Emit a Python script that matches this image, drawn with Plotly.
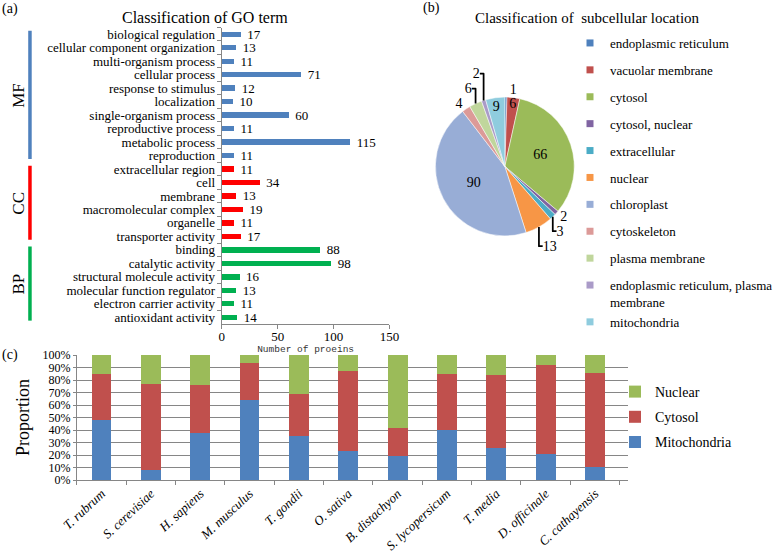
import plotly.graph_objects as go

W, H = 778, 557

# (a) GO classification
go_terms = [
    "biological regulation", "cellular component organization", "multi-organism process",
    "cellular process", "response to stimulus", "localization", "single-organism process",
    "reproductive process", "metabolic process", "reproduction",
    "extracellular region", "cell", "membrane", "macromolecular complex", "organelle",
    "transporter activity",
    "binding", "catalytic activity", "structural molecule activity",
    "molecular function regulator", "electron carrier activity", "antioxidant activity",
]
go_counts = [17, 13, 11, 71, 12, 10, 60, 11, 115, 11,
             11, 34, 13, 19, 11, 17,
             88, 98, 16, 13, 11, 14]
go_groups = ["MF", "CC", "BP"]
go_group_sizes = [10, 6, 6]
go_group_colors = ["#4F81BD", "#FF0000", "#00B050"]

# (b) subcellular location
loc_labels = [
    "endoplasmic reticulum", "vacuolar membrane", "cytosol", "cytosol, nuclear",
    "extracellular", "nuclear", "chloroplast", "cytoskeleton", "plasma membrane",
    "endoplasmic reticulum, plasma<br>membrane", "mitochondria",
]
loc_counts = [1, 6, 66, 2, 3, 13, 90, 4, 6, 2, 9]
loc_colors = ["#4F81BD", "#C0504D", "#9BBB59", "#8064A2", "#4BACC6", "#F79646",
              "#98ADD6", "#DC9A98", "#C0D69C", "#AA9BC8", "#8FCCDE"]

# (c) proportion per species
species = ["T. rubrum", "S. cerevisiae", "H. sapiens", "M. musculus", "T. gondii",
           "O. sativa", "B. distachyon", "S. lycopersicum", "T. media",
           "D. officinale", "C. cathayensis"]
mito = [48, 8, 38, 64, 35.5, 23.5, 19.5, 40, 26, 21, 10.5]
cytosol = [37, 69, 38, 30, 33, 64, 22, 45, 58, 71, 75]
nuclear = [15, 23, 24, 6, 31.5, 12.5, 58.5, 15, 16, 8, 14.5]
highlight = "C. cathayensis"

serif = "Liberation Serif"
axis_col = "#868686"


def px_x(p):
    return p / W


def px_y(p):
    return 1 - p / H


fig = go.Figure()

# bars of panel (a), coloured per group
bar_colors = []
for g, n in enumerate(go_group_sizes):
    bar_colors += [go_group_colors[g]] * n

fig.add_trace(go.Bar(
    x=go_counts, y=go_terms, orientation="h",
    marker=dict(color=bar_colors, line=dict(width=0)),
    texttemplate="\u00a0\u00a0%{x}", textposition="outside", constraintext="none",
    textfont=dict(size=13, color="black", family=serif),
    cliponaxis=False, showlegend=False,
    xaxis="x", yaxis="y",
))

# pie of panel (b)
fig.add_trace(go.Pie(
    labels=loc_labels, values=loc_counts, sort=False, direction="clockwise",
    rotation=0, marker=dict(colors=loc_colors, line=dict(color="white", width=0.5)),
    textinfo="value",
    textposition=["outside", "inside", "inside", "outside", "outside", "outside",
                  "inside", "outside", "outside", "outside", "inside"],
    insidetextorientation="horizontal",
    textfont=dict(size=14, color="black", family=serif),
    domain=dict(x=[px_x(436), px_x(575)], y=[px_y(236), px_y(97)]),
    showlegend=False, hoverinfo="label+value",
))

# legend entries for the pie (last two share a group so the wrapped label adds no gap)
for i, (lab, col) in enumerate(zip(loc_labels, loc_colors)):
    grp = "er_pm" if i >= len(loc_labels) - 2 else lab
    fig.add_trace(go.Scatter(
        x=[None], y=[None], mode="markers", name=lab, legend="legend2",
        legendgroup=grp, marker=dict(symbol="square", size=7, color=col),
        xaxis="x2", yaxis="y2",
    ))

# stacked bars of panel (c)
for rank, (name, vals, col) in enumerate([("Mitochondria", mito, "#4F81BD"),
                                          ("Cytosol", cytosol, "#C0504D"),
                                          ("Nuclear", nuclear, "#9BBB59")]):
    fig.add_trace(go.Bar(
        x=species, y=vals, name=name, marker=dict(color=col, line=dict(width=0)),
        legendgroup=name, legendrank=1000 - rank, xaxis="x2", yaxis="y2",
    ))

fig.add_trace(go.Scatter(
    x=[highlight], y=[-4], mode="markers", marker=dict(color="#FF0000", size=9),
    cliponaxis=False, showlegend=False, xaxis="x2", yaxis="y2", hoverinfo="skip",
))

# group bars and labels next to panel (a)
shapes = []
annotations = []
start = 0
for g, n in enumerate(go_group_sizes):
    shapes.append(dict(type="line", xref="paper", yref="y",
                       x0=px_x(30), x1=px_x(30), y0=start - 0.25, y1=start + n - 0.75,
                       line=dict(color=go_group_colors[g], width=3.5)))
    annotations.append(dict(text=go_groups[g], xref="paper", yref="y",
                            x=px_x(19), y=start + (n - 1) / 2, textangle=-90,
                            xanchor="center", yanchor="middle",
                            showarrow=False, font=dict(size=17, family=serif, color="black")))
    start += n

for txt, x, y, size in [("(a)", 10, 9, 14), ("(b)", 432, 8, 14), ("(c)", 10, 355, 14),
                        ("Classification of GO term", 205, 18, 16),
                        ("Classification of&nbsp; subcellular location", 588, 18, 15)]:
    annotations.append(dict(text=txt, xref="paper", yref="paper", x=px_x(x), y=px_y(y),
                            xanchor="center", yanchor="middle",
                            showarrow=False, font=dict(size=size, family=serif, color="black")))

fig.update_layout(
    width=W, height=H, template="none",
    margin=dict(l=0, r=0, t=0, b=0),
    paper_bgcolor="white", plot_bgcolor="white",
    font=dict(family=serif, color="black", size=13),
    barmode="stack", bargap=0.6,
    uniformtext=dict(minsize=13, mode="show"),
    xaxis=dict(domain=[px_x(222), px_x(390)], range=[0, 150], tickvals=[0, 50, 100, 150],
               showgrid=False, zeroline=False, showline=True, linecolor=axis_col,
               ticks="outside", ticklen=4, tickcolor=axis_col, automargin=False,
               tickfont=dict(size=13, family=serif), ticklabelstandoff=-4,
               title=dict(text="Number of proeins", standoff=0,
                          font=dict(family="Liberation Mono", size=9.5, color="#333333")),
               anchor="y"),
    yaxis=dict(domain=[px_y(324), px_y(27.5)], autorange="reversed", type="category",
               tickmode="array", tickvals=go_terms, ticktext=go_terms,
               showgrid=False, zeroline=False, showline=True, linecolor=axis_col,
               ticks="outside", ticklen=4, tickcolor=axis_col, tickson="boundaries",
               automargin=False, tickfont=dict(size=13, family=serif), ticklabelstandoff=3,
               anchor="x"),
    xaxis2=dict(domain=[px_x(77), px_x(629)], type="category", showgrid=False,
                showline=True, linecolor=axis_col, ticks="outside", ticklen=4,
                tickcolor=axis_col, tickson="boundaries", tickangle=-43,
                tickfont=dict(size=13, style="italic", family=serif), automargin=False,
                anchor="y2"),
    yaxis2=dict(domain=[px_y(480), px_y(355)], range=[0, 100], dtick=10, ticksuffix="%",
                showgrid=True, gridcolor=axis_col, gridwidth=1, zeroline=False,
                showline=True, linecolor=axis_col, ticks="outside", ticklen=3,
                tickcolor=axis_col, tickfont=dict(size=12, family=serif), automargin=False,
                title=dict(text="Proportion", font=dict(size=18, family=serif), standoff=8),
                anchor="x2"),
    legend=dict(x=px_x(615), y=px_y(376), xanchor="left", yanchor="top",
                traceorder="grouped", tracegroupgap=4,
                font=dict(size=14, family=serif), bgcolor="rgba(0,0,0,0)"),
    legend2=dict(x=px_x(571), y=px_y(28), xanchor="left", yanchor="top",
                 traceorder="grouped", tracegroupgap=7, valign="top",
                 font=dict(size=13, family=serif), bgcolor="rgba(0,0,0,0)"),
    shapes=shapes, annotations=annotations,
)

fig.write_html("out.html", config={"displayModeBar": False},
               post_script="document.body.style.margin = '0';")
